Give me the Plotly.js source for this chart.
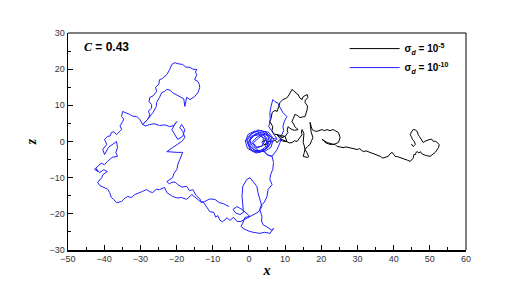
<!DOCTYPE html>
<html>
<head>
<meta charset="utf-8">
<script src="https://cdn.plot.ly/plotly-3.0.1.min.js"></script>
<style>html,body{margin:0;padding:0;background:#fff;}#chart{width:530px;height:283px;}</style>
</head>
<body>
<div id="chart"></div>
<script>
// Trajectory sigma_d = 1e-10 (blue)
const blueX = [0,1.2,2.8,4.2,5,4.6,3.2,1.5,0.3,0.4,1.8,3.6,5.2,5.6,4.8,2.9,0.9,-0.3,0.6,2.4,4,3.8,2.3,1.2,2.6,4.5,6.3,5.8,4.1,2,0.2,-0.5,0.8,3,5.4,6.8,
  6.1,4.3,2.1,0.5,-0.8,-0.2,1.6,3.4,4.9,5.3,4.4,2.7,1.1,0.1,1.3,3.1,4.6,3.6,1.9,0.8,2.2,3.9,5.6,6.2,5.1,3.2,1.4,-0.4,-1.0,0.4,2.5,4.7,6.5,7.8,
  6.6,5.5,5.9,5.8,6.1,6.6,7.2,8.0,8.6,9.4,10.5,9.8,9.4,9.6,9.1,8.9,8.6,7.8,6.4,5,4,5.2,6.4,
  6.8,6.6,6.0,5.8,6.4,5.3,5.2,5,4.2,3.4,3,3.6,3.5,3.9,5.3,6.4,6.8,5.8,4.4,3,1.7,0.3,-1.1,-2.2,-1.7,
  -1.1,0.3,-0.6,-1.9,-3.3,-4.4,-3.6,-2.5,-1.5,-1.9,-1.7,-0.6,0.3,1.1,2.2,2.5,3,3.6,2.6,1.2,-0.5,-2.2,
  -3.3,-4.2,-5.3,-6.0,-6.6,-7.3,-8,-8.6,-9.2,-9.7,-10.8,-11.6,-12.5,-13.1,-13.6,-14.6,-15.5,-16.4,-17.2,-18.5,-19.7,-20.4,-21.3,-22.0,-22.7,
  -21.1,-20.7,-19.9,-19.6,-19.1,-18.3,-19.9,-22.7,-21.1,-19.7,-18.6,-17.7,-18.3,-19.1,-18.6,-17.7,-18.3,-19.7,-20.5,-21.3,-20.5,-19.9,-20.8,-21.9,-23.2,-24.7,-26.1,-27.4,-28.5,-29.4,
  -28,-27.6,-27.4,-27.8,-26.9,-26.9,-27.6,-27.4,-26.5,-25.5,-25.8,-24.9,-24.7,-23.9,-23.3,-22.6,-21.9,-21.7,-21.3,-20.5,-19.6,-18.3,-17.5,-16.3,-15.5,-14.4,-14.8,-14.4,-15,-14.1,-13.7,-13.6,-14.1,-15,-15.6,-16.3,-17.2,-17.4,-17.7,-18,-19.1,-20.0,-21.1,-21.8,-22.7,-23.4,-24.1,-24.7,-25.0,-25.5,-25.6,-26,-26.5,-26.9,-28,-28.6,-29.4,
  -30.2,-31,-32.1,-33,-34.0,-34.9,-35.2,-34.6,-34.9,-35.6,-35.2,-36.0,-36.6,-37.3,-38,-38.4,-39.1,-39.9,-39.3,-40.4,-39.9,-38.8,-37.5,-36.6,-36.3,-36.8,-36.3,-37.8,-39.1,-39.9,-40.8,-41.8,-42.7,-41.8,-42.3,-41.3,-40.1,-39.1,-40.3,-40.7,-41.8,-41.2,-39.9,-39.0,-38.5,-38,-37.4,-36.6,-35.2,-34.2,-33.5,-32.5,-31.6,-30.6,-29.4,-28.3,-27.4,-26.6,-25.6,-24.7,-23.3,-22.7,-21.9,-21.1,-19.8,-18.6,-17.2,-15.8,-14.9,-14.1,-13.2,-12.2,-10.9,-9.4,-8.2,-7,-5.5];
const blueZ = [0,1.5,2.4,1.6,0.2,-1.5,-2.6,-2.4,-1.2,0.8,2.1,2.7,1.8,0,-1.9,-3,-2.5,-0.6,1.4,2.2,0.9,-1.1,-1.8,-0.4,0.9,2.4,1.2,-0.8,-2.6,-3.2,-2,0.3,2.3,3,2.6,0.8,
  -1.6,-2.8,-2.7,-1.5,0.4,2.0,2.9,2.4,1.0,-0.9,-2.2,-2.5,-1.4,0.2,1.6,1.9,0.5,-1.3,-1.6,-0.3,1.2,2.1,1.4,-0.2,-1.8,-2.9,-2.9,-1.9,0.2,1.9,3.2,2.6,0.9,0.6,
  2.5,4.1,6.2,8,9.6,11.6,11.0,10.6,9.4,8,6.9,5.6,4.1,3.0,1.9,0.7,-0.3,-2.2,-4.1,-3.6,-2.5,-3.8,-4.1,
  -5.8,-7.7,-9.2,-10.5,-11.9,-13.3,-14.4,-15.2,-16.9,-17.6,-18.8,-20.7,-22,-23,-23.8,-24.6,-24.0,-25.4,-25.1,-25.4,-25.2,-24.9,-24.3,-23.5,-22.6,
  -21,-20.7,-19.9,-18.8,-18,-18.8,-19.8,-20.2,-19.6,-15.2,-12.4,-10.5,-10,-11.1,-12.4,-14.1,-16,-18,-19.5,-20.2,-21.2,-22.1,
  -22.1,-21,-21.8,-21.1,-21.6,-22.2,-21.8,-20.5,-20.9,-19.6,-19.4,-18.2,-16.9,-16.8,-15.8,-14.9,-13.3,-13.6,-12.4,-12.6,-11.9,-11.2,-11.3,-11.7,-11.1,
  -10,-8.8,-7.7,-6.2,-5,-3,-3,-2.8,-1.7,-0.8,0,1.1,2.8,3.9,4.7,3.3,1.4,0.6,1.9,3.3,4.7,5.5,4.4,4.1,4.6,4.4,4.9,4.7,4.3,4.7,
  6.1,6.8,7.5,8.4,9.2,10.2,11.0,12.2,12.6,13.8,15.0,15.8,17.1,17.4,18,18.6,19.9,20.6,21.3,21.8,21.5,21.3,20.6,20.5,20.0,19.9,19.2,18.5,17.1,16.6,15.8,14.9,13.5,12.4,12.0,11.6,12.2,11.0,9.7,11.8,12.4,12.8,13.5,14.2,14.4,13.8,13.5,12.2,11.6,10.8,9.7,8.8,8.0,7.5,6.1,5.4,4.7,
  6.2,6.9,7.0,7.5,7.9,8.3,6.9,6.2,5.5,4.4,3.3,2.6,1.9,2.7,2.5,1.5,1.4,0.6,-0.8,-2.2,-3.6,-1.6,-0.6,0,-1.7,-3.0,-4.1,-4.4,-5.5,-6.4,-6.0,-6.9,-7.7,-8.3,-7.4,-8.6,-7.8,-8.3,-9.1,-10,-11.3,-12.2,-12.7,-13.2,-14.1,-15.5,-16.0,-16.9,-16.6,-15.6,-15.2,-15.5,-14.7,-14.2,-13.8,-13.3,-13.9,-14.1,-13.2,-13.3,-12.7,-14.1,-14.6,-15.2,-15.6,-15.5,-16,-14.7,-15.4,-16,-16.8,-16.6,-15.9,-16,-16.9,-17.2,-18];

// Trajectory sigma_d = 1e-5 (black)
const blackX = [3.5,4.6,5.2,4.1,5.8,6.6,7.2,7.8,8.6,9.3,10.5,10,9.1,7.8,6.8,6.4,6.6,6.1,5.8,6.2,6.4,7.2,7.8,8.2,8.6,9.4,10.2,10.8,11.3,11.9,12.4,12.7,13.2,13.6,14.1,14.7,15,15.6,16.1,16.3,15.6,15.5,16.2,16.1,15.8,15.5,14.8,14.1,13.4,12.7,12.3,11.9,12.4,12.7,13.2,13.6,12.6,11.9,11.2,10.8,10.6,10.8,10,9,7.8,8.6,9.1,10.5,11.2,11.9,12.6,13.3,14.1,14.4,14.7,14.5,14.7,15.2,15,15,15.3,15.5,16,16.3,16.5,16.1,15.4,15,15.3,15.5,16.2,16.9,17.3,17.7,17.2,16.9,17.2,17.5,18.2,18.8,19.4,20.2,20.9,21.6,22.4,23.3,24,24.7,25,25.2,25,24.7,24,23.3,22.4,21.6,20.9,20.2,20.8,21.1,22.4,23.8,24.4,25.2,26,26.8,28,28.8,29.9,30.6,31.6,32.4,33.5,34.2,34.9,35.6,36.3,37,37.7,38.5,39,39.6,40,40.4,41.1,41.8,42.5,43.2,43.9,44.6,45.2,45.4,45.6,46,46.2,46.5,47,47.4,47.8,48.2,49,50.1,50.8,51.5,52.4,52.6,52.1,51.5,51,50.6,50.1,49.3,48.7,48.2,47.8,47.4,47.1,46.8,46.5,46,45.4,44.9,44.6,45,45.2,45.7,46,45.6,45.4,44.9];
const blackZ = [-0.2,0.5,-0.6,-1,0.2,0,0.4,-0.3,0.6,0.1,0,1.4,1.1,1.9,2.1,3.1,4.1,5,5.5,6.6,8,8.6,8.3,9.6,10.8,11.6,11.9,12.4,13.4,14.4,14,13.8,13.2,13,12,11.6,12.4,12.8,13,12.2,11.4,10.8,9.8,8.8,7.6,6.9,6.8,6.6,7.2,7.5,6.4,5.5,4.8,4.1,3.6,3.3,3.1,3.3,3.8,4.1,3,2.5,1.4,1.6,1.9,0.8,0.6,0,-0.4,-0.3,0.2,0,1.1,1.6,1.9,2.6,3.3,2.2,0.8,-0.3,-1.2,-2.2,-3,-3.6,-4.2,-4.4,-4.3,-4.1,-3.1,-2.2,-1.4,-0.8,0.2,1.1,2.6,5.3,4.2,3.3,2.9,2.8,3,3.3,3,3.3,3,3.3,2.9,2.5,1.8,1.1,0.4,-0.3,-0.6,-0.8,-0.5,-0.3,0.2,0.6,0.1,-0.3,-0.8,-0.8,-1.4,-1.5,-1.7,-1.5,-1.7,-2,-2.2,-2,-2.8,-2.6,-3,-3.4,-3.6,-3.8,-4.1,-4.6,-4.4,-4.1,-3.4,-3,-3.6,-4.1,-4.2,-4.4,-4.8,-5,-5.2,-5.5,-5,-4.6,-3.6,-3.6,-3,-2.8,-3.2,-2.8,-3.4,-3.6,-3.9,-4.1,-3.6,-3,-1.7,-0.9,-0.3,0.1,0,0.6,0.6,0.4,0.1,-0.3,0.3,0.6,1.4,1.9,2.8,3.2,3.3,2.6,1.9,1.1,0.6,0,-0.8,-1.2,-1.4,-0.7];

const traceNames = ['σ<sub><i>d</i></sub> = 10<sup>-5</sup>', 'σ<sub><i>d</i></sub> = 10<sup>-10</sup>'];
const xTicks = [-50,-40,-30,-20,-10,0,10,20,30,40,50,60];
const zTicks = [-30,-20,-10,0,10,20,30];

const traces = [
  {x: blackX, y: blackZ, type: 'scatter', mode: 'lines', name: traceNames[0], line: {color: '#000000', width: 1}},
  {x: blueX, y: blueZ, type: 'scatter', mode: 'lines', name: traceNames[1], line: {color: '#2020ff', width: 1}}
];

const tickFont = {family: 'Arial, Liberation Sans, sans-serif', size: 9, color: '#333'};
const layout = {
  width: 530, height: 283,
  margin: {l: 68, r: 64, t: 33, b: 33},
  paper_bgcolor: '#fff', plot_bgcolor: '#fff',
  showlegend: true,
  legend: {x: 0.695, y: 0.995, xanchor: 'left', yanchor: 'top', bgcolor: 'rgba(0,0,0,0)',
    font: {family: 'Arial, Liberation Sans, sans-serif', size: 10, color: '#000', weight: 'bold'},
    itemwidth: 50, tracegroupgap: 6},
  xaxis: {range: [-50, 60], tickvals: xTicks, ticks: 'inside', ticklen: 5, tickwidth: 1, tickcolor: '#000',
    minor: {dtick: 5, ticks: 'inside', ticklen: 3, tickcolor: '#000'},
    showgrid: false, zeroline: false, showline: true, linewidth: 1.5, linecolor: '#000',
    tickfont: tickFont,
    title: {text: '<b><i>x</i></b>', font: {family: 'Times New Roman, Liberation Serif, serif', size: 14, color: '#000'}, standoff: 2}},
  yaxis: {range: [-30, 30], tickvals: zTicks, ticks: 'inside', ticklen: 5, tickwidth: 1, tickcolor: '#000',
    minor: {dtick: 5, ticks: 'inside', ticklen: 3, tickcolor: '#000'},
    showgrid: false, zeroline: false, showline: true, linewidth: 1.5, linecolor: '#000',
    tickfont: tickFont,
    title: {text: '<b><i>z</i></b>', font: {family: 'Times New Roman, Liberation Serif, serif', size: 14, color: '#000'}, standoff: 9}},
  shapes: [
    {type: 'line', xref: 'paper', yref: 'paper', x0: 0, x1: 1, y0: 1, y1: 1, line: {color: '#000', width: 1}},
    {type: 'line', xref: 'paper', yref: 'paper', x0: 1, x1: 1, y0: 0, y1: 1, line: {color: '#000', width: 1}}
  ],
  annotations: [
    {xref: 'paper', yref: 'paper', x: 0.035, y: 0.935, xanchor: 'left', yanchor: 'middle', showarrow: false,
     text: '<b><i style="font-family:Times New Roman, Liberation Serif, serif">C</i> = 0.43</b>',
     font: {family: 'Arial, Liberation Sans, sans-serif', size: 12, color: '#000'}}
  ]
};

Plotly.newPlot('chart', traces, layout, {displayModeBar: false, staticPlot: true});
</script>
</body>
</html>
